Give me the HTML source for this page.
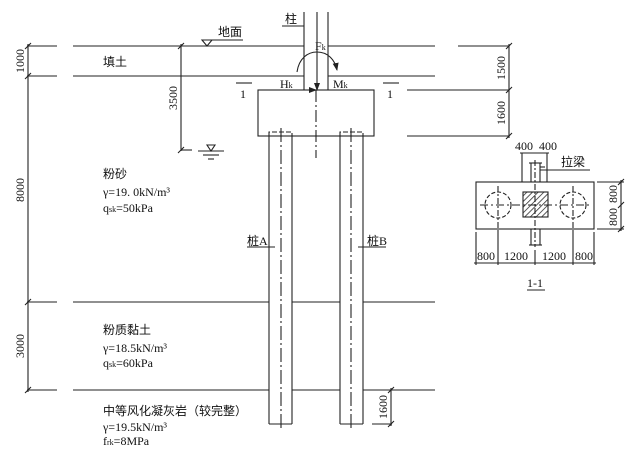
<!DOCTYPE html>
<html><head><meta charset="utf-8"><style>
html,body{margin:0;padding:0;background:#fff;}
svg{display:block;}
text{font-family:"Liberation Serif","Noto Serif CJK SC",serif;fill:#111;font-size:12px;}
.c{font-family:"Liberation Serif","Noto Sans CJK SC",serif;}
</style></head><body>
<svg width="633" height="456" viewBox="0 0 633 456" xmlns="http://www.w3.org/2000/svg">
<defs>
<marker id="ar" markerWidth="8" markerHeight="8" refX="7" refY="4" orient="auto" markerUnits="userSpaceOnUse"><path d="M0,1 L8,4 L0,7 Z" fill="#222"/></marker>
<pattern id="h" width="4" height="4" patternUnits="userSpaceOnUse" patternTransform="rotate(45)"><line x1="0" y1="0" x2="0" y2="4" stroke="#222" stroke-width="1.5"/></pattern>
</defs>
<g stroke="#222" stroke-width="1.1" fill="none">
<line x1="27" y1="46" x2="57" y2="46"/><line x1="73" y1="46" x2="304" y2="46"/><line x1="328" y1="46" x2="435" y2="46"/><line x1="458" y1="46" x2="509" y2="46"/>
<line x1="27" y1="76" x2="57" y2="76"/><line x1="73" y1="76" x2="304" y2="76"/><line x1="328" y1="76" x2="435" y2="76"/>
<line x1="27" y1="302" x2="57" y2="302"/><line x1="73" y1="302" x2="269" y2="302"/><line x1="292" y1="302" x2="340" y2="302"/><line x1="363" y1="302" x2="435" y2="302"/>
<line x1="27" y1="390" x2="57" y2="390"/><line x1="73" y1="390" x2="269" y2="390"/><line x1="292" y1="390" x2="340" y2="390"/><line x1="363" y1="390" x2="435" y2="390"/>
<line x1="407" y1="90" x2="509" y2="90"/><line x1="407" y1="136" x2="509" y2="136"/>
<line x1="28" y1="44" x2="28" y2="392"/>
<line x1="25" y1="49" x2="31" y2="43"/><line x1="25" y1="79" x2="31" y2="73"/><line x1="25" y1="305" x2="31" y2="299"/><line x1="25" y1="393" x2="31" y2="387"/>
<line x1="509" y1="44" x2="509" y2="138"/>
<line x1="506" y1="49" x2="512" y2="43"/><line x1="506" y1="93" x2="512" y2="87"/><line x1="506" y1="139" x2="512" y2="133"/>
<line x1="181" y1="44" x2="181" y2="151"/><line x1="178" y1="49" x2="184" y2="43"/><line x1="178" y1="153" x2="184" y2="147"/>
<line x1="181" y1="150" x2="192" y2="150"/>
<line x1="198" y1="151" x2="224" y2="151"/><line x1="203" y1="155" x2="219" y2="155"/><line x1="208" y1="159" x2="214" y2="159"/>
<path d="M207,145 L215,145 L211,151 Z"/>
<path d="M202,40 L212,40 L207,46 Z"/><line x1="212" y1="40" x2="243" y2="40"/>
<line x1="304" y1="12" x2="304" y2="90"/><line x1="328" y1="12" x2="328" y2="90"/>
<line x1="282" y1="26" x2="304" y2="26"/>
<rect x="258" y="90" width="116" height="46"/>
<line x1="316" y1="90" x2="316" y2="158" stroke-dasharray="12,3,2,3"/>
<polyline points="269,424 269,136"/><polyline points="292,424 292,136"/><line x1="269" y1="424" x2="292" y2="424"/>
<path d="M269,136 V132 H292 V136" stroke-dasharray="5,2"/>
<line x1="281" y1="128" x2="281" y2="428" stroke-dasharray="14,3,2,3"/>
<polyline points="340,424 340,136"/><polyline points="363,424 363,136"/><line x1="340" y1="424" x2="363" y2="424"/>
<path d="M340,136 V132 H363 V136" stroke-dasharray="5,2"/>
<line x1="351" y1="128" x2="351" y2="428" stroke-dasharray="14,3,2,3"/>
<line x1="247" y1="247" x2="275" y2="247"/><line x1="358" y1="247" x2="386" y2="247"/>
<line x1="391" y1="388" x2="391" y2="426"/><line x1="388" y1="393" x2="394" y2="387"/><line x1="388" y1="427" x2="394" y2="421"/>
<line x1="372" y1="424" x2="392" y2="424"/>
<line x1="317" y1="12" x2="317" y2="90" marker-end="url(#ar)"/>
<line x1="273" y1="90" x2="316" y2="90" marker-end="url(#ar)"/>
<path d="M297,72 C299,58 308,52 317,52 C328,52 335,60 337,70" marker-end="url(#ar)"/>
<line x1="236" y1="83" x2="252" y2="83"/><line x1="383" y1="83" x2="399" y2="83"/>
<rect x="476" y="182" width="118" height="47"/>
<rect x="523" y="192" width="25" height="25" fill="url(#h)"/>
<circle cx="498" cy="205" r="13" stroke-dasharray="4,2"/>
<circle cx="573" cy="205" r="13" stroke-dasharray="4,2"/>
<line x1="480" y1="205" x2="590" y2="205" stroke-dasharray="8,3,2,3"/>
<line x1="498" y1="186" x2="498" y2="232" stroke-dasharray="6,2,2,2"/>
<line x1="573" y1="186" x2="573" y2="232" stroke-dasharray="6,2,2,2"/>
<line x1="535" y1="160" x2="535" y2="247" stroke-dasharray="6,2,2,2"/>
<line x1="531" y1="163" x2="531" y2="182"/><line x1="540" y1="163" x2="540" y2="182"/><line x1="529" y1="163" x2="542" y2="163"/>
<line x1="531" y1="229" x2="531" y2="245"/><line x1="540" y1="229" x2="540" y2="245"/><line x1="529" y1="245" x2="542" y2="245"/>
<line x1="540" y1="167" x2="545" y2="167"/>
<line x1="540" y1="170" x2="590" y2="170"/>
<line x1="522" y1="153" x2="522" y2="182"/><line x1="547" y1="153" x2="547" y2="182"/>
<line x1="520" y1="153" x2="549" y2="153"/>
<line x1="476" y1="232" x2="476" y2="265"/><line x1="498" y1="232" x2="498" y2="265"/><line x1="594" y1="232" x2="594" y2="265"/><line x1="573" y1="232" x2="573" y2="265"/><line x1="535" y1="250" x2="535" y2="265"/>
<line x1="474" y1="263" x2="596" y2="263"/>
<line x1="621" y1="180" x2="621" y2="231"/><line x1="597" y1="182" x2="624" y2="182"/><line x1="597" y1="229" x2="624" y2="229"/>
<line x1="618" y1="185" x2="624" y2="179"/><line x1="618" y1="208" x2="624" y2="202"/><line x1="618" y1="232" x2="624" y2="226"/>
<line x1="527" y1="290" x2="545" y2="290"/>
</g>
<text x="218" y="36" class="c" font-size="12">地面</text>
<text x="285" y="23" class="c" font-size="12">柱</text>
<text x="103" y="66" class="c" font-size="12">填土</text>
<text x="315" y="50" font-size="11">F<tspan font-size="8">k</tspan></text>
<text x="280" y="88" font-size="11">H<tspan font-size="8">k</tspan></text>
<text x="333" y="88" font-size="11">M<tspan font-size="8">k</tspan></text>
<text x="240" y="98" font-size="11">1</text><text x="387" y="98" font-size="11">1</text>
<text x="103" y="178" class="c">粉砂</text>
<text x="103" y="196">γ=19. 0kN/m³</text>
<text x="103" y="212">q<tspan font-size="8">sk</tspan>=50kPa</text>
<text x="247" y="245" class="c">桩A</text>
<text x="367" y="245" class="c">桩B</text>
<text x="103" y="334" class="c">粉质黏土</text>
<text x="103" y="352">γ=18.5kN/m³</text>
<text x="103" y="367">q<tspan font-size="8">sk</tspan>=60kPa</text>
<text x="103" y="415" class="c">中等风化凝灰岩（较完整）</text>
<text x="103" y="431">γ=19.5kN/m³</text>
<text x="103" y="445">f<tspan font-size="8">rk</tspan>=8MPa</text>
<g font-size="11">
<text transform="translate(24,61) rotate(-90)" text-anchor="middle">1000</text>
<text transform="translate(24,190) rotate(-90)" text-anchor="middle">8000</text>
<text transform="translate(24,346) rotate(-90)" text-anchor="middle">3000</text>
<text transform="translate(177,98) rotate(-90)" text-anchor="middle">3500</text>
<text transform="translate(505,68) rotate(-90)" text-anchor="middle">1500</text>
<text transform="translate(505,113) rotate(-90)" text-anchor="middle">1600</text>
<text transform="translate(387,407) rotate(-90)" text-anchor="middle">1600</text>
<text transform="translate(617,194) rotate(-90)" text-anchor="middle">800</text>
<text transform="translate(617,217) rotate(-90)" text-anchor="middle">800</text>
<text x="515" y="150">400</text><text x="539" y="150">400</text>
<text x="477" y="260">800</text><text x="504" y="260">1200</text><text x="542" y="260">1200</text><text x="575" y="260">800</text>
<text x="527" y="287">1-1</text>
</g>
<text x="561" y="166" class="c" font-size="12">拉梁</text>
</svg>
</body></html>
